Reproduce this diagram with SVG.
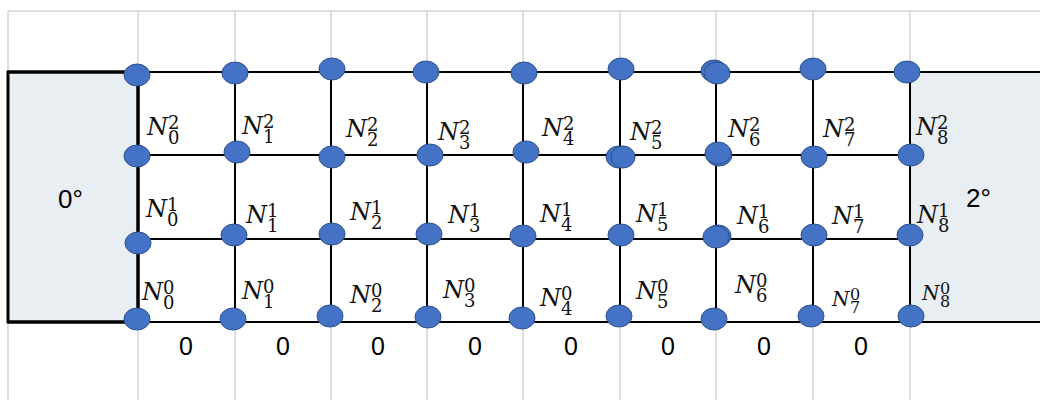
<svg xmlns="http://www.w3.org/2000/svg" width="1040" height="400" viewBox="0 0 1040 400">
<style>
.bg{fill:#fff}
.gl{stroke:#D6D6D6;stroke-width:1.6;fill:none}
.ln{stroke:#000;stroke-width:2;fill:none}
.box{fill:#E9EEF3}
.nd{fill:#4472C4;stroke:#2F528F;stroke-width:1}
.lb{font-family:"DejaVu Serif","Liberation Serif",serif;fill:#111}
.n{font-style:italic;font-size:24px}
.s{font-size:18px}
.sm .n{font-size:20px}
.sm .s{font-size:16px}
.t{font-family:"Liberation Sans",Arial,sans-serif;font-size:26px;fill:#000}
.z{font-family:"Liberation Sans",Arial,sans-serif;font-size:25px;fill:#000;text-anchor:middle}
</style>
<rect class="bg" x="0" y="0" width="1040" height="400"/>
<g id="background-grid">
<path class="gl" d="M8 11H1040 M8 11V72 M138 11V72 M235 11V72 M331 11V72 M427 11V72 M523 11V72 M620 11V72 M716 11V72 M813 11V72 M910 11V72 M8 322V400 M138 322V400 M235 322V400 M331 322V400 M427 322V400 M523 322V400 M620 322V400 M716 322V400 M813 322V400 M910 322V400"/>
</g>
<g id="boundary-left">
<rect class="box" x="8" y="72" width="130" height="250" stroke="#000" stroke-width="3"/>
<text class="t" x="58" y="208">0°</text>
</g>
<g id="boundary-right">
<rect class="box" x="910" y="72" width="140" height="250" stroke="#000" stroke-width="2"/>
<text class="t" x="966" y="207">2°</text>
</g>
<g id="connectors">
<path class="ln" d="M138 72H1040 M138 155H910 M138 239H910 M138 322H1040 M235 72V322 M331 72V322 M427 72V322 M523 72V322 M620 72V322 M716 72V322 M813 72V322 M910 72V322"/>
<path d="M8 72H138V322H8" fill="none" stroke="#000" stroke-width="3"/>
</g>
<g id="edge-labels">
<text class="z" x="186" y="355">0</text>
<text class="z" x="283" y="355">0</text>
<text class="z" x="378" y="355">0</text>
<text class="z" x="475" y="355">0</text>
<text class="z" x="571" y="355">0</text>
<text class="z" x="668" y="355">0</text>
<text class="z" x="764" y="355">0</text>
<text class="z" x="861" y="355">0</text>
</g>
<g id="nodes-top">
<g id="T0"><ellipse class="nd" cx="137" cy="75" rx="13" ry="11"/></g>
<g id="T1"><ellipse class="nd" cx="235" cy="73" rx="13" ry="11"/></g>
<g id="T2"><ellipse class="nd" cx="332" cy="69" rx="13" ry="11"/></g>
<g id="T3"><ellipse class="nd" cx="426" cy="72" rx="13" ry="11"/></g>
<g id="T4"><ellipse class="nd" cx="524" cy="73" rx="13" ry="11"/></g>
<g id="T5"><ellipse class="nd" cx="621" cy="69" rx="13" ry="11"/></g>
<g id="T6"><ellipse class="nd" cx="714" cy="71" rx="13" ry="11"/><ellipse class="nd" cx="717" cy="73" rx="13" ry="11"/></g>
<g id="T7"><ellipse class="nd" cx="813" cy="69" rx="13" ry="11"/></g>
<g id="T8"><ellipse class="nd" cx="907" cy="72" rx="13" ry="11"/></g>
</g>
<g id="nodes-row2">
<g id="N0-2"><ellipse class="nd" cx="137" cy="156" rx="13" ry="11"/><text class="lb" x="147" y="135"><tspan class="n">N</tspan><tspan class="s" x="168" y="129">2</tspan><tspan class="s" x="168" y="144">0</tspan></text></g>
<g id="N1-2"><ellipse class="nd" cx="237" cy="152" rx="13" ry="11"/><text class="lb" x="242" y="134"><tspan class="n">N</tspan><tspan class="s" x="263" y="128">2</tspan><tspan class="s" x="263" y="143">1</tspan></text></g>
<g id="N2-2"><ellipse class="nd" cx="332" cy="157" rx="13" ry="11"/><text class="lb" x="346" y="137"><tspan class="n">N</tspan><tspan class="s" x="367" y="131">2</tspan><tspan class="s" x="367" y="146">2</tspan></text></g>
<g id="N3-2"><ellipse class="nd" cx="430" cy="155" rx="13" ry="11"/><text class="lb" x="438" y="140"><tspan class="n">N</tspan><tspan class="s" x="459" y="134">2</tspan><tspan class="s" x="459" y="149">3</tspan></text></g>
<g id="N4-2"><ellipse class="nd" cx="526" cy="152" rx="13" ry="11"/><text class="lb" x="542" y="136"><tspan class="n">N</tspan><tspan class="s" x="563" y="130">2</tspan><tspan class="s" x="563" y="145">4</tspan></text></g>
<g id="N5-2"><ellipse class="nd" cx="619" cy="157" rx="13" ry="11"/><ellipse class="nd" cx="623" cy="157" rx="12" ry="11"/><text class="lb" x="630" y="140"><tspan class="n">N</tspan><tspan class="s" x="651" y="134">2</tspan><tspan class="s" x="651" y="149">5</tspan></text></g>
<g id="N6-2"><ellipse class="nd" cx="719" cy="155" rx="13" ry="11"/><ellipse class="nd" cx="718" cy="153" rx="13" ry="11"/><text class="lb" x="728" y="137"><tspan class="n">N</tspan><tspan class="s" x="749" y="131">2</tspan><tspan class="s" x="749" y="146">6</tspan></text></g>
<g id="N7-2"><ellipse class="nd" cx="814" cy="157" rx="13" ry="11"/><text class="lb" x="823" y="137"><tspan class="n">N</tspan><tspan class="s" x="844" y="131">2</tspan><tspan class="s" x="844" y="146">7</tspan></text></g>
<g id="N8-2"><ellipse class="nd" cx="911" cy="155" rx="13" ry="11"/><text class="lb" x="916" y="135"><tspan class="n">N</tspan><tspan class="s" x="937" y="129">2</tspan><tspan class="s" x="937" y="144">8</tspan></text></g>
</g>
<g id="nodes-row1">
<g id="N0-1"><ellipse class="nd" cx="138" cy="243" rx="13" ry="11"/><text class="lb" x="146" y="217"><tspan class="n">N</tspan><tspan class="s" x="167" y="211">1</tspan><tspan class="s" x="167" y="226">0</tspan></text></g>
<g id="N1-1"><ellipse class="nd" cx="234" cy="235" rx="13" ry="11"/><text class="lb" x="246" y="223"><tspan class="n">N</tspan><tspan class="s" x="267" y="217">1</tspan><tspan class="s" x="267" y="232">1</tspan></text></g>
<g id="N2-1"><ellipse class="nd" cx="332" cy="234" rx="13" ry="11"/><text class="lb" x="350" y="220"><tspan class="n">N</tspan><tspan class="s" x="371" y="214">1</tspan><tspan class="s" x="371" y="229">2</tspan></text></g>
<g id="N3-1"><ellipse class="nd" cx="429" cy="234" rx="13" ry="11"/><text class="lb" x="448" y="223"><tspan class="n">N</tspan><tspan class="s" x="469" y="217">1</tspan><tspan class="s" x="469" y="232">3</tspan></text></g>
<g id="N4-1"><ellipse class="nd" cx="523" cy="236" rx="13" ry="11"/><text class="lb" x="540" y="222"><tspan class="n">N</tspan><tspan class="s" x="561" y="216">1</tspan><tspan class="s" x="561" y="231">4</tspan></text></g>
<g id="N5-1"><ellipse class="nd" cx="621" cy="235" rx="13" ry="11"/><text class="lb" x="636" y="222"><tspan class="n">N</tspan><tspan class="s" x="657" y="216">1</tspan><tspan class="s" x="657" y="231">5</tspan></text></g>
<g id="N6-1"><ellipse class="nd" cx="718" cy="236" rx="13" ry="11"/><ellipse class="nd" cx="716" cy="237" rx="13" ry="11"/><text class="lb" x="737" y="224"><tspan class="n">N</tspan><tspan class="s" x="758" y="218">1</tspan><tspan class="s" x="758" y="233">6</tspan></text></g>
<g id="N7-1"><ellipse class="nd" cx="814" cy="235" rx="13" ry="11"/><text class="lb" x="832" y="224"><tspan class="n">N</tspan><tspan class="s" x="853" y="218">1</tspan><tspan class="s" x="853" y="233">7</tspan></text></g>
<g id="N8-1"><ellipse class="nd" cx="910" cy="235" rx="13" ry="11"/><text class="lb" x="917" y="223"><tspan class="n">N</tspan><tspan class="s" x="938" y="217">1</tspan><tspan class="s" x="938" y="232">8</tspan></text></g>
</g>
<g id="nodes-row0">
<g id="N0-0"><ellipse class="nd" cx="137" cy="319" rx="13" ry="11"/><text class="lb" x="142" y="300"><tspan class="n">N</tspan><tspan class="s" x="163" y="294">0</tspan><tspan class="s" x="163" y="309">0</tspan></text></g>
<g id="N1-0"><ellipse class="nd" cx="233" cy="319" rx="13" ry="11"/><text class="lb" x="242" y="299"><tspan class="n">N</tspan><tspan class="s" x="263" y="293">0</tspan><tspan class="s" x="263" y="308">1</tspan></text></g>
<g id="N2-0"><ellipse class="nd" cx="330" cy="316" rx="13" ry="11"/><text class="lb" x="350" y="303"><tspan class="n">N</tspan><tspan class="s" x="371" y="297">0</tspan><tspan class="s" x="371" y="312">2</tspan></text></g>
<g id="N3-0"><ellipse class="nd" cx="428" cy="317" rx="13" ry="11"/><text class="lb" x="443" y="298"><tspan class="n">N</tspan><tspan class="s" x="464" y="292">0</tspan><tspan class="s" x="464" y="307">3</tspan></text></g>
<g id="N4-0"><ellipse class="nd" cx="522" cy="318" rx="13" ry="11"/><text class="lb" x="540" y="306"><tspan class="n">N</tspan><tspan class="s" x="561" y="300">0</tspan><tspan class="s" x="561" y="315">4</tspan></text></g>
<g id="N5-0"><ellipse class="nd" cx="619" cy="316" rx="13" ry="11"/><text class="lb" x="636" y="299"><tspan class="n">N</tspan><tspan class="s" x="657" y="293">0</tspan><tspan class="s" x="657" y="308">5</tspan></text></g>
<g id="N6-0"><ellipse class="nd" cx="714" cy="319" rx="13" ry="11"/><text class="lb" x="735" y="293"><tspan class="n">N</tspan><tspan class="s" x="756" y="287">0</tspan><tspan class="s" x="756" y="302">6</tspan></text></g>
<g id="N7-0" class="sm"><ellipse class="nd" cx="811" cy="316" rx="13" ry="11"/><text class="lb" x="832" y="306"><tspan class="n">N</tspan><tspan class="s" x="850" y="300">0</tspan><tspan class="s" x="850" y="313">7</tspan></text></g>
<g id="N8-0" class="sm"><ellipse class="nd" cx="911" cy="316" rx="13" ry="11"/><text class="lb" x="922" y="300"><tspan class="n">N</tspan><tspan class="s" x="940" y="294">0</tspan><tspan class="s" x="940" y="307">8</tspan></text></g>
</g>
</svg>
